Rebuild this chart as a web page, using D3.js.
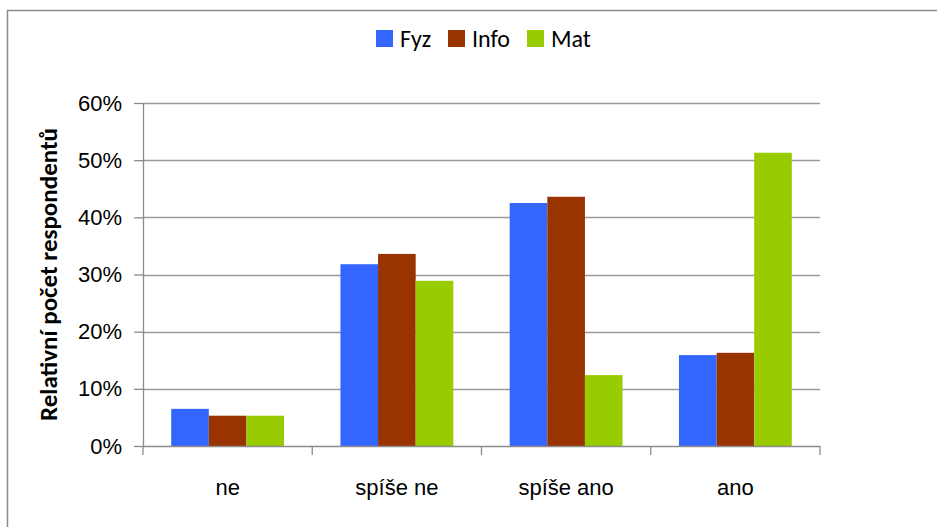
<!DOCTYPE html>
<html>
<head>
<meta charset="utf-8">
<script src="https://cdn.jsdelivr.net/npm/d3@7"></script>
<style>
  body { margin: 0; background: #fff; }
  svg { display: block; font-family: Carlito, Calibri, Lato, "Open Sans", sans-serif; }
</style>
</head>
<body>
<svg id="chart" width="937" height="527"></svg>
<script>
  // data
  const categories = ['ne', 'spíše ne', 'spíše ano', 'ano']
  const seriesNames = ['Fyz', 'Info', 'Mat']
  const fyz = [6.5, 31.8, 42.5, 15.9]
  const info = [5.3, 33.6, 43.6, 16.3]
  const mat = [5.3, 28.9, 12.4, 51.3]
  const yTicks = [0, 10, 20, 30, 40, 50, 60]
  const colors = ['#3366FF', '#993300', '#99CC00']

  const seriesValues = [fyz, info, mat]

  const svg = d3.select('#chart')

  // frame
  svg.append('path')
    .attr('d', 'M7.5,540 V10.5 H950')
    .attr('fill', 'none')
    .attr('stroke', '#8c8c8c')
    .attr('stroke-width', 1.5)

  const plot = { left: 143, right: 820, top: 103, bottom: 446 }

  const x = d3.scaleBand()
    .domain(categories)
    .range([plot.left, plot.right])
    .paddingInner(0)
    .paddingOuter(0)

  // 150% gap width: bars take 3 units of 4.5
  const x1 = d3.scaleBand()
    .domain(seriesNames)
    .range([0, x.bandwidth()])
    .paddingOuter(0.75)
    .paddingInner(0)

  const y = d3.scaleLinear().domain([0, 60]).range([plot.bottom, plot.top])

  // grid
  svg.append('g')
    .selectAll('line')
    .data(yTicks.filter(d => d > 0))
    .enter().append('line')
    .attr('x1', plot.left)
    .attr('x2', plot.right)
    .attr('y1', d => Math.round(y(d)) + 0.5)
    .attr('y2', d => Math.round(y(d)) + 0.5)
    .attr('stroke', '#9a9a9a')
    .attr('stroke-width', 1.3)

  // bars
  seriesNames.forEach((name, si) => {
    svg.append('g')
      .selectAll('rect')
      .data(categories)
      .enter().append('rect')
      .attr('x', c => x(c) + x1(name))
      .attr('width', x1.bandwidth())
      .attr('y', (c, i) => y(seriesValues[si][i]))
      .attr('height', (c, i) => plot.bottom - y(seriesValues[si][i]))
      .attr('fill', colors[si])
  })

  // y axis
  const yAxis = svg.append('g')
    .attr('transform', 'translate(' + plot.left + ',0)')
    .call(d3.axisLeft(y).tickValues(yTicks).tickSize(9).tickPadding(12).tickFormat(d => d + '%'))
  yAxis.selectAll('line, path').attr('stroke', '#8c8c8c').attr('stroke-width', 1.3)
  yAxis.select('.domain').attr('d', 'M0.5,' + plot.top + 'V' + plot.bottom)
  yAxis.selectAll('text').attr('font-size', 22).attr('fill', '#000').attr('font-family', null)

  // x axis
  const xAxis = svg.append('g')
    .attr('transform', 'translate(0,' + plot.bottom + ')')
    .call(d3.axisBottom(x).tickSize(0).tickPadding(33))
  xAxis.select('.domain').attr('d', 'M' + plot.left + ',0.5H' + plot.right).attr('stroke', '#8c8c8c').attr('stroke-width', 1.3)
  xAxis.selectAll('text').attr('font-size', 22).attr('fill', '#000').attr('font-family', null)
  xAxis.selectAll('line.sep')
    .data(d3.range(categories.length + 1))
    .enter().append('line')
    .attr('class', 'sep')
    .attr('x1', i => plot.left + i * x.bandwidth())
    .attr('x2', i => plot.left + i * x.bandwidth())
    .attr('y1', 0)
    .attr('y2', 9)
    .attr('stroke', '#8c8c8c')
    .attr('stroke-width', 1.3)

  // axis title
  svg.append('text')
    .attr('transform', 'translate(57,' + (plot.top + plot.bottom) / 2 + ') rotate(-90)')
    .attr('text-anchor', 'middle')
    .attr('font-size', 25)
    .attr('font-weight', 'bold')
    .text('Relativní počet respondentů')

  // legend
  const legendX = [376, 448, 527]
  const legend = svg.append('g')
  seriesNames.forEach((name, i) => {
    legend.append('rect')
      .attr('x', legendX[i]).attr('y', 30)
      .attr('width', 17).attr('height', 17)
      .attr('fill', colors[i])
    legend.append('text')
      .attr('x', legendX[i] + 24).attr('y', 47)
      .attr('font-size', 24)
      .text(name)
  })
</script>
</body>
</html>
